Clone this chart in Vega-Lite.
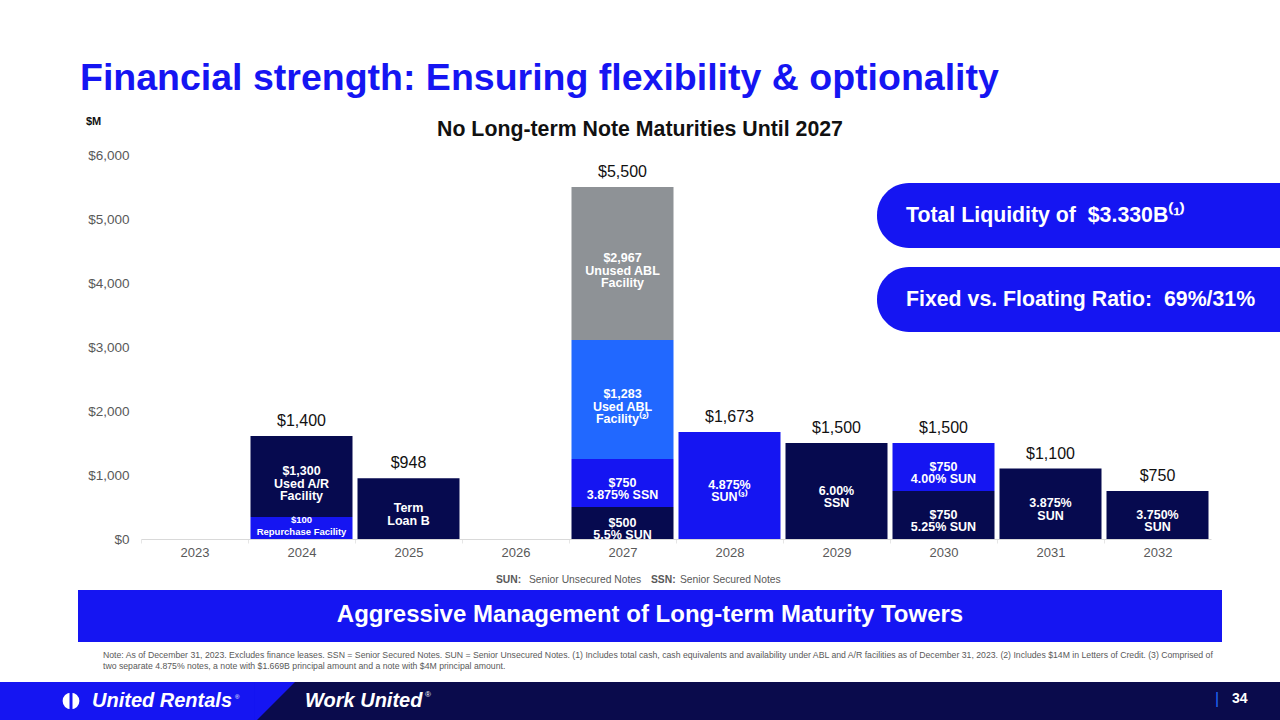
{
  "$schema": "https://vega.github.io/schema/vega-lite/v6.json",
  "width": 1070,
  "height": 384,
  "autosize": {"type": "none"},
  "padding": {"left": 141, "top": 155, "right": 69, "bottom": 181},
  "background": "white",
  "config": {
    "view": {"stroke": null},
    "font": "Liberation Sans",
    "text": {"font": "Liberation Sans"},
    "axis": {"labelFont": "Liberation Sans", "grid": false}
  },
  "datasets": {
    "segments": [
      {"year": 2024, "seg": 1, "series": "Group B", "amount": 345, "total": 1400, "label": "$100\nRepurchase Facility"},
      {"year": 2024, "seg": 2, "series": "Group A", "amount": 1265, "total": 1400, "label": "$1,300\nUsed A/R\nFacility"},
      {"year": 2025, "seg": 1, "series": "Group A", "amount": 948, "total": 948, "label": "Term\nLoan B"},
      {"year": 2027, "seg": 1, "series": "Group A", "amount": 500, "total": 5500, "label": "$500\n5.5% SUN"},
      {"year": 2027, "seg": 2, "series": "Group B", "amount": 750, "total": 5500, "label": "$750\n3.875% SSN"},
      {"year": 2027, "seg": 3, "series": "Used ABL", "amount": 1860, "total": 5500, "label": "$1,283\nUsed ABL\nFacility⁽²⁾"},
      {"year": 2027, "seg": 4, "series": "Unused ABL", "amount": 2390, "total": 5500, "label": "$2,967\nUnused ABL\nFacility"},
      {"year": 2028, "seg": 1, "series": "Group B", "amount": 1673, "total": 1673, "label": "4.875%\nSUN⁽³⁾"},
      {"year": 2029, "seg": 1, "series": "Group A", "amount": 1500, "total": 1500, "label": "6.00%\nSSN"},
      {"year": 2030, "seg": 1, "series": "Group A", "amount": 750, "total": 1500, "label": "$750\n5.25% SUN"},
      {"year": 2030, "seg": 2, "series": "Group B", "amount": 750, "total": 1500, "label": "$750\n4.00% SUN"},
      {"year": 2031, "seg": 1, "series": "Group A", "amount": 1100, "total": 1100, "label": "3.875%\nSUN"},
      {"year": 2032, "seg": 1, "series": "Group A", "amount": 750, "total": 750, "label": "3.750%\nSUN"}
    ]
  },
  "layer": [
    {
      "data": {"values": [{}]},
      "mark": {"type": "rect", "color": "#0A0B4C"},
      "encoding": {
        "x": {"datum": 2020.5, "type": "quantitative", "title": null},
        "x2": {"datum": 2034.5},
        "y": {"datum": -2234.4, "type": "quantitative", "title": null},
        "y2": {"datum": -3000}
      }
    },
    {
      "data": {"values": [{}]},
      "mark": {"type": "rect", "color": "#1515F2"},
      "encoding": {
        "x": {"datum": 2020.5, "type": "quantitative", "title": null},
        "x2": {"datum": 2023.5654},
        "y": {"datum": -2234.4, "type": "quantitative", "title": null},
        "y2": {"datum": -3000}
      }
    },
    {
      "data": {"values": [{}]},
      "mark": {"type": "point", "filled": true, "opacity": 1, "color": "#1515F2", "shape": "M -1 -1 L 1 -1 L -1 1 Z", "size": 1600},
      "encoding": {
        "x": {"datum": 2023.7523, "type": "quantitative", "title": null},
        "y": {"datum": -2546.9, "type": "quantitative", "title": null}
      }
    },
    {
      "data": {"values": [{}]},
      "mark": {"type": "rect", "color": "#1515F2"},
      "encoding": {
        "x": {"datum": 2021.9112, "type": "quantitative", "title": null},
        "x2": {"datum": 2032.6028},
        "y": {"datum": -796.9, "type": "quantitative", "title": null},
        "y2": {"datum": -1609.4}
      }
    },
    {
      "data": {"values": [{}]},
      "mark": {"type": "rect", "color": "#1515F2", "cornerRadiusTopLeft": 32, "cornerRadiusBottomLeft": 32},
      "encoding": {
        "x": {"datum": 2029.3785, "type": "quantitative", "title": null},
        "x2": {"datum": 2034.0},
        "y": {"datum": 5562.5, "type": "quantitative", "title": null},
        "y2": {"datum": 4546.9}
      }
    },
    {
      "data": {"values": [{}]},
      "mark": {"type": "rect", "color": "#1515F2", "cornerRadiusTopLeft": 32, "cornerRadiusBottomLeft": 32},
      "encoding": {
        "x": {"datum": 2029.3785, "type": "quantitative", "title": null},
        "x2": {"datum": 2034.0},
        "y": {"datum": 4250, "type": "quantitative", "title": null},
        "y2": {"datum": 3234.4}
      }
    },
    {
      "data": {"name": "segments"},
      "transform": [
        {"stack": "amount", "groupby": ["year"], "sort": [{"field": "seg", "order": "ascending"}], "as": ["y0", "y1"]}
      ],
      "mark": {"type": "bar", "width": 102, "orient": "vertical"},
      "encoding": {
        "x": {
          "field": "year", "type": "quantitative", "title": null,
          "scale": {"domain": [2022.5, 2032.5], "nice": false, "zero": false, "padding": 0},
          "axis": {
            "values": [2023, 2024, 2025, 2026, 2027, 2028, 2029, 2030, 2031, 2032],
            "format": "d", "labelColor": "#595959", "labelFontSize": 13, "labelPadding": 3,
            "domainColor": "#d9d9d9", "tickColor": "#e6e6e6", "tickSize": 4,
            "tickOffset": -53.5, "labelOffset": 53.5, "labelFlush": false, "labelOverlap": false, "labelBound": false
          }
        },
        "y": {
          "field": "y0", "type": "quantitative", "title": null,
          "scale": {"domain": [0, 6000], "nice": false, "padding": 0},
          "axis": {
            "values": [0, 1000, 2000, 3000, 4000, 5000, 6000],
            "format": "$,.0f", "labelColor": "#595959", "labelFontSize": 13.5, "labelPadding": 12,
            "domain": false, "ticks": false, "tickSize": 0, "labelOverlap": false
          }
        },
        "y2": {"field": "y1"},
        "color": {
          "field": "series", "type": "nominal", "legend": null,
          "scale": {"domain": ["Group A", "Group B", "Used ABL", "Unused ABL"], "range": ["#060A4F", "#1515F2", "#2168FF", "#8E9296"]}
        }
      }
    },
    {
      "data": {"name": "segments"},
      "transform": [
        {"stack": "amount", "groupby": ["year"], "sort": [{"field": "seg", "order": "ascending"}], "as": ["y0", "y1"]},
        {"calculate": "(datum.y0 + datum.y1) / 2", "as": "mid"},
        {"filter": "!(datum.year == 2024 && datum.seg == 1) && length(split(datum.label, '\\n')) == 2"}
      ],
      "mark": {"type": "text", "color": "white", "fontWeight": "bold", "fontSize": 12.5, "lineBreak": "\n", "lineHeight": 12.5, "baseline": "middle", "dy": -0.5},
      "encoding": {
        "x": {"field": "year", "type": "quantitative", "title": null},
        "y": {"field": "mid", "type": "quantitative", "title": null},
        "text": {"field": "label"}
      }
    },
    {
      "data": {"name": "segments"},
      "transform": [
        {"stack": "amount", "groupby": ["year"], "sort": [{"field": "seg", "order": "ascending"}], "as": ["y0", "y1"]},
        {"calculate": "(datum.y0 + datum.y1) / 2", "as": "mid"},
        {"filter": "length(split(datum.label, '\\n')) == 3"}
      ],
      "mark": {"type": "text", "color": "white", "fontWeight": "bold", "fontSize": 12.5, "lineBreak": "\n", "lineHeight": 12.5, "baseline": "middle", "dy": -5},
      "encoding": {
        "x": {"field": "year", "type": "quantitative", "title": null},
        "y": {"field": "mid", "type": "quantitative", "title": null},
        "text": {"field": "label"}
      }
    },
    {
      "data": {"name": "segments"},
      "transform": [
        {"stack": "amount", "groupby": ["year"], "sort": [{"field": "seg", "order": "ascending"}], "as": ["y0", "y1"]},
        {"calculate": "(datum.y0 + datum.y1) / 2", "as": "mid"},
        {"filter": "datum.year == 2024 && datum.seg == 1"}
      ],
      "mark": {"type": "text", "color": "white", "fontWeight": "bold", "fontSize": 9.5, "lineBreak": "\n", "lineHeight": 12.5, "baseline": "middle", "dy": -8},
      "encoding": {
        "x": {"field": "year", "type": "quantitative", "title": null},
        "y": {"field": "mid", "type": "quantitative", "title": null},
        "text": {"field": "label"}
      }
    },
    {
      "data": {"name": "segments"},
      "transform": [
        {"aggregate": [{"op": "sum", "field": "amount", "as": "top"}, {"op": "max", "field": "total", "as": "total"}], "groupby": ["year"]}
      ],
      "mark": {"type": "text", "fontSize": 16, "color": "#111111", "baseline": "middle", "dy": -15},
      "encoding": {
        "x": {"field": "year", "type": "quantitative", "title": null},
        "y": {"field": "top", "type": "quantitative", "title": null},
        "text": {"field": "total", "type": "quantitative", "format": "$,.0f"}
      }
    },
    {
      "data": {"values": [{}]},
      "mark": {"type": "text", "text": "Financial strength: Ensuring flexibility & optionality", "fontSize": 37.5, "fontWeight": "bold", "color": "#1515F2", "align": "left", "baseline": "alphabetic"},
      "encoding": {
        "x": {"datum": 2021.9299, "type": "quantitative", "title": null},
        "y": {"datum": 7015.6, "type": "quantitative", "title": null}
      }
    },
    {
      "data": {"values": [{}]},
      "mark": {"type": "text", "text": "$M", "fontSize": 11, "fontWeight": "bold", "color": "#111111", "align": "left", "baseline": "middle"},
      "encoding": {
        "x": {"datum": 2021.986, "type": "quantitative", "title": null},
        "y": {"datum": 6515.6, "type": "quantitative", "title": null}
      }
    },
    {
      "data": {"values": [{}]},
      "mark": {"type": "text", "text": "No Long-term Note Maturities Until 2027", "fontSize": 21.3, "fontWeight": "bold", "color": "#111111", "align": "center", "baseline": "middle"},
      "encoding": {
        "x": {"datum": 2027.1636, "type": "quantitative", "title": null},
        "y": {"datum": 6390.6, "type": "quantitative", "title": null}
      }
    },
    {
      "data": {"values": [{}]},
      "mark": {"type": "text", "text": "Total Liquidity of\u00a0 $3.330B⁽¹⁾", "fontSize": 21.3, "fontWeight": "bold", "color": "white", "align": "left", "baseline": "middle"},
      "encoding": {
        "x": {"datum": 2029.6495, "type": "quantitative", "title": null},
        "y": {"datum": 5046.9, "type": "quantitative", "title": null}
      }
    },
    {
      "data": {"values": [{}]},
      "mark": {"type": "text", "text": "Fixed vs. Floating Ratio:\u00a0 69%/31%", "fontSize": 21.3, "fontWeight": "bold", "color": "white", "align": "left", "baseline": "middle"},
      "encoding": {
        "x": {"datum": 2029.6495, "type": "quantitative", "title": null},
        "y": {"datum": 3734.4, "type": "quantitative", "title": null}
      }
    },
    {
      "data": {"values": [{}]},
      "mark": {"type": "text", "text": "SUN:", "fontSize": 10.3, "fontWeight": "bold", "color": "#595959", "align": "left", "baseline": "middle"},
      "encoding": {
        "x": {"datum": 2025.8178, "type": "quantitative", "title": null},
        "y": {"datum": -640.6, "type": "quantitative", "title": null}
      }
    },
    {
      "data": {"values": [{}]},
      "mark": {"type": "text", "text": "Senior Unsecured Notes", "fontSize": 10.3, "color": "#595959", "align": "left", "baseline": "middle"},
      "encoding": {
        "x": {"datum": 2026.1262, "type": "quantitative", "title": null},
        "y": {"datum": -640.6, "type": "quantitative", "title": null}
      }
    },
    {
      "data": {"values": [{}]},
      "mark": {"type": "text", "text": "SSN:", "fontSize": 10.3, "fontWeight": "bold", "color": "#595959", "align": "left", "baseline": "middle"},
      "encoding": {
        "x": {"datum": 2027.2664, "type": "quantitative", "title": null},
        "y": {"datum": -640.6, "type": "quantitative", "title": null}
      }
    },
    {
      "data": {"values": [{}]},
      "mark": {"type": "text", "text": "Senior Secured Notes", "fontSize": 10.3, "color": "#595959", "align": "left", "baseline": "middle"},
      "encoding": {
        "x": {"datum": 2027.5374, "type": "quantitative", "title": null},
        "y": {"datum": -640.6, "type": "quantitative", "title": null}
      }
    },
    {
      "data": {"values": [{}]},
      "mark": {"type": "text", "text": "Aggressive Management of Long-term Maturity Towers", "fontSize": 24, "fontWeight": "bold", "color": "white", "align": "center", "baseline": "middle"},
      "encoding": {
        "x": {"datum": 2027.257, "type": "quantitative", "title": null},
        "y": {"datum": -1187.5, "type": "quantitative", "title": null}
      }
    },
    {
      "data": {"values": [{}]},
      "mark": {"type": "text", "text": "Note: As of December 31, 2023. Excludes finance leases. SSN = Senior Secured Notes. SUN = Senior Unsecured Notes. (1) Includes total cash, cash equivalents and availability under ABL and A/R facilities as of December 31, 2023. (2) Includes $14M in Letters of Credit. (3) Comprised of\ntwo separate 4.875% notes, a note with $1.669B principal amount and a note with $4M principal amount.", "lineBreak": "\n", "lineHeight": 11, "fontSize": 8.7, "color": "#595959", "align": "left", "baseline": "top"},
      "encoding": {
        "x": {"datum": 2022.1449, "type": "quantitative", "title": null},
        "y": {"datum": -1750, "type": "quantitative", "title": null}
      }
    },
    {
      "data": {"values": [{}]},
      "mark": {"type": "point", "filled": true, "opacity": 1, "color": "white", "shape": "circle", "size": 280},
      "encoding": {
        "x": {"datum": 2021.8458, "type": "quantitative", "title": null},
        "y": {"datum": -2531.25, "type": "quantitative", "title": null}
      }
    },
    {
      "data": {"values": [{}]},
      "mark": {"type": "point", "filled": true, "opacity": 1, "color": "#1515F2", "shape": "M -0.15 -1 L 0.15 -1 L 0.15 1 L -0.15 1 Z", "size": 400},
      "encoding": {
        "x": {"datum": 2021.8458, "type": "quantitative", "title": null},
        "y": {"datum": -2531.25, "type": "quantitative", "title": null}
      }
    },
    {
      "data": {"values": [{}]},
      "mark": {"type": "text", "text": "United Rentals", "fontSize": 20, "fontWeight": "bold", "fontStyle": "italic", "color": "white", "align": "left", "baseline": "middle"},
      "encoding": {
        "x": {"datum": 2022.0421, "type": "quantitative", "title": null},
        "y": {"datum": -2531.25, "type": "quantitative", "title": null}
      }
    },
    {
      "data": {"values": [{}]},
      "mark": {"type": "text", "text": "®", "fontSize": 6, "color": "white", "align": "left", "baseline": "middle"},
      "encoding": {
        "x": {"datum": 2023.3785, "type": "quantitative", "title": null},
        "y": {"datum": -2468.75, "type": "quantitative", "title": null}
      }
    },
    {
      "data": {"values": [{}]},
      "mark": {"type": "text", "text": "Work United", "fontSize": 20, "fontWeight": "bold", "fontStyle": "italic", "color": "white", "align": "left", "baseline": "middle"},
      "encoding": {
        "x": {"datum": 2024.0327, "type": "quantitative", "title": null},
        "y": {"datum": -2531.25, "type": "quantitative", "title": null}
      }
    },
    {
      "data": {"values": [{}]},
      "mark": {"type": "text", "text": "®", "fontSize": 8, "color": "white", "align": "left", "baseline": "middle"},
      "encoding": {
        "x": {"datum": 2025.1542, "type": "quantitative", "title": null},
        "y": {"datum": -2437.5, "type": "quantitative", "title": null}
      }
    },
    {
      "data": {"values": [{}]},
      "mark": {"type": "text", "text": "|", "fontSize": 16, "color": "#2168FF", "align": "center", "baseline": "middle"},
      "encoding": {
        "x": {"datum": 2032.5561, "type": "quantitative", "title": null},
        "y": {"datum": -2500, "type": "quantitative", "title": null}
      }
    },
    {
      "data": {"values": [{}]},
      "mark": {"type": "text", "text": "34", "fontSize": 14, "fontWeight": "bold", "color": "white", "align": "left", "baseline": "middle"},
      "encoding": {
        "x": {"datum": 2032.6963, "type": "quantitative", "title": null},
        "y": {"datum": -2500, "type": "quantitative", "title": null}
      }
    }
  ]
}
